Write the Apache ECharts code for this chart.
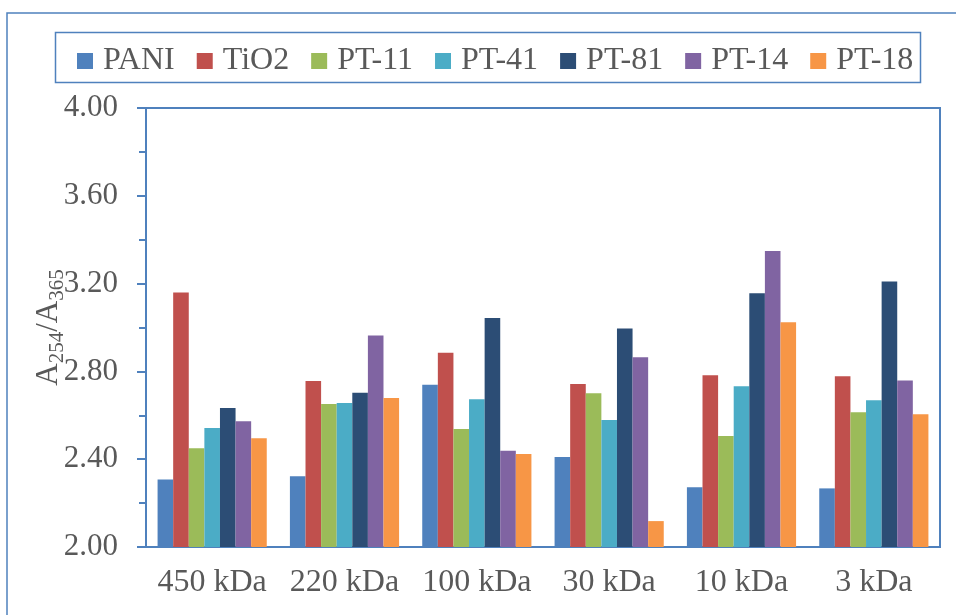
<!DOCTYPE html>
<html>
<head>
<meta charset="utf-8">
<script src="https://cdn.jsdelivr.net/npm/echarts@6/dist/echarts.min.js"></script>
<style>
html,body{margin:0;padding:0;background:#fff;}
#c{width:956px;height:615px;}
</style>
</head>
<body>
<div id="c"></div>
<script>
var categories = ['450 kDa', '220 kDa', '100 kDa', '30 kDa', '10 kDa', '3 kDa'];
var seriesNames = ['PANI', 'TiO2', 'PT-11', 'PT-41', 'PT-81', 'PT-14', 'PT-18'];
var PANI  = [2.308, 2.322, 2.739, 2.410, 2.272, 2.267];
var TiO2  = [3.160, 2.756, 2.885, 2.743, 2.782, 2.778];
var PT11  = [2.450, 2.651, 2.538, 2.700, 2.506, 2.614];
var PT41  = [2.542, 2.656, 2.673, 2.579, 2.732, 2.668];
var PT81  = [2.633, 2.703, 3.043, 2.995, 3.156, 3.209];
var PT14  = [2.573, 2.964, 2.439, 2.864, 3.349, 2.759];
var PT18  = [2.495, 2.679, 2.424, 2.118, 3.024, 2.605];
var yTicks = [2.00, 2.40, 2.80, 3.20, 3.60, 4.00];

var colors = ['#4f81bd', '#c0504d', '#9bbb59', '#4bacc6', '#2c4d75', '#8064a2', '#f79646'];
var dataArr = [PANI, TiO2, PT11, PT41, PT81, PT14, PT18];
var FONT = '"Liberation Serif", "Times New Roman", serif';
var axisBlue = '#4f81bd';

var chart = echarts.init(document.getElementById('c'), null, {renderer: 'canvas'});
var series = seriesNames.map(function (n, i) {
  return {
    name: n,
    type: 'bar',
    data: dataArr[i],
    barGap: '0%',
    barCategoryGap: '17.5%',
    itemStyle: {color: colors[i]},
    emphasis: {disabled: true}
  };
});

chart.setOption({
  animation: false,
  color: colors,
  textStyle: {fontFamily: FONT},
  graphic: [
    {type: 'rect', shape: {x: 7, y: 13, width: 1000, height: 700},
     style: {fill: 'none', stroke: axisBlue, lineWidth: 1.5}, silent: true, z: -1},
    {type: 'rect', shape: {x: 55.5, y: 32.5, width: 865, height: 50},
     style: {fill: 'none', stroke: axisBlue, lineWidth: 1.5}, silent: true, z: -1}
  ],
  legend: {
    data: seriesNames,
    left: 72,
    top: 40,
    itemWidth: 16,
    itemHeight: 16,
    itemGap: 22,
    icon: 'rect',
    textStyle: {fontFamily: FONT, fontSize: 32, color: '#595959', padding: [0, 0, 0, 5]}
  },
  grid: {
    left: 146, right: 16, top: 108, bottom: 68,
    show: true, borderColor: axisBlue, borderWidth: 2, containLabel: false
  },
  xAxis: {
    type: 'category',
    data: categories,
    axisLine: {show: true, lineStyle: {color: axisBlue, width: 2}},
    axisTick: {show: false},
    axisLabel: {fontFamily: FONT, fontSize: 32, color: '#595959', margin: 20, interval: 0},
    splitLine: {show: false}
  },
  yAxis: {
    type: 'value',
    min: 2.0, max: 4.0, interval: 0.4,
    axisLine: {show: true, lineStyle: {color: axisBlue, width: 2}},
    axisTick: {show: true, length: 9, lineStyle: {color: axisBlue, width: 2}},
    minorTick: {show: true, splitNumber: 2, length: 7, lineStyle: {color: axisBlue, width: 2}},
    splitLine: {show: false},
    axisLabel: {
      fontFamily: FONT, fontSize: 31, color: '#595959', margin: 28,
      formatter: function (v) { return v.toFixed(2); }
    },
    name: '{a|A}{s|254}{a|/A}{s|365}',
    nameLocation: 'middle',
    nameRotate: 90,
    nameGap: 78,
    nameMoveOverlap: false,
    nameTextStyle: {
      fontFamily: FONT, color: '#595959',
      rich: {
        a: {fontFamily: FONT, fontSize: 31, color: '#595959', lineHeight: 34},
        s: {fontFamily: FONT, fontSize: 21, color: '#595959', padding: [18, 0, 0, 0]}
      }
    }
  },
  series: series
});
</script>
</body>
</html>
